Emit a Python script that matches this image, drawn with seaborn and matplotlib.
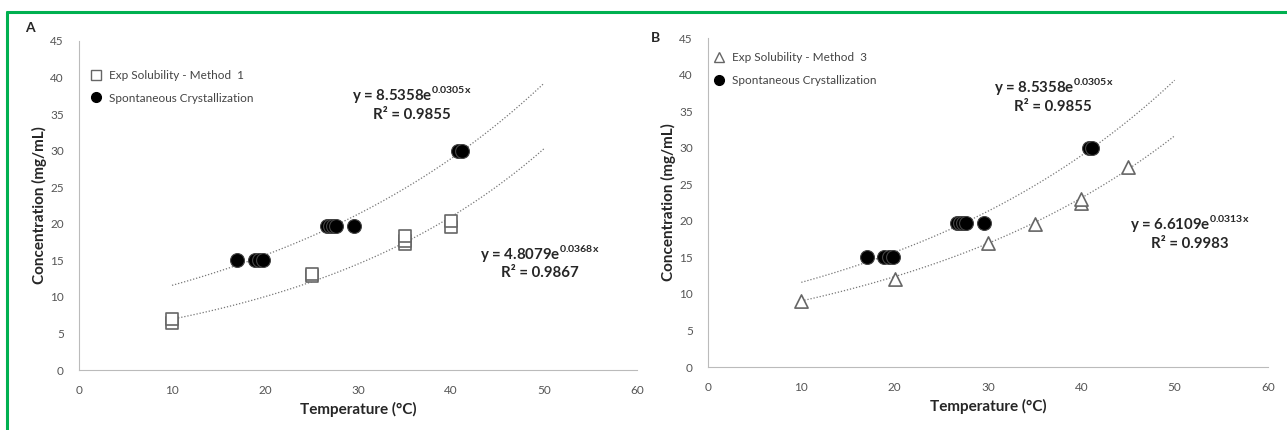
import numpy as np
import pandas as pd
import matplotlib.pyplot as plt
import seaborn as sns
from matplotlib.lines import Line2D

# Method 1 solubility (panel A)
m1_temp = [10, 10, 25, 25, 35, 35, 35, 40, 40]
m1_conc = [6.4, 7.0, 12.8, 13.1, 17.2, 17.7, 18.3, 19.5, 20.4]

# Method 3 solubility (panel B)
m3_temp = [10, 20, 30, 35, 40, 40, 45]
m3_conc = [9.0, 12.0, 17.0, 19.6, 22.4, 23.0, 27.4]

# Spontaneous crystallization (both panels)
sc_temp = [17, 18.9, 19.4, 19.8, 26.7, 27.0, 27.3, 27.6, 29.6, 40.8, 41.2]
sc_conc = [15, 15, 15, 15, 19.7, 19.7, 19.7, 19.7, 19.7, 30, 30]

# Exponential trendlines (a, b) for y = a*exp(b*x), as printed on the chart
fit_sc = (8.5358, 0.0305)
fit_m1 = (4.8079, 0.0368)
fit_m3 = (6.6109, 0.0313)
fit_range = (10, 50)

sns.set_theme(style="white")
plt.rcParams['font.family'] = ['Lato', 'DejaVu Sans']

fig = plt.figure(figsize=(12.87, 4.3), dpi=100)
axA = fig.add_axes([0.0614, 0.1395, 0.4336, 0.7652])
axB = fig.add_axes([0.5501, 0.1465, 0.4351, 0.7651])


def trend(ax, fit):
    xs = np.linspace(fit_range[0], fit_range[1], 100)
    df = pd.DataFrame({'x': xs, 'y': fit[0] * np.exp(fit[1] * xs)})
    sns.lineplot(data=df, x='x', y='y', ax=ax, color='#777777', lw=0.9,
                 linestyle=(0, (1, 1.5)), zorder=1)


def style_axes(ax):
    ax.set_xlim(0, 60)
    ax.set_ylim(0, 45)
    ax.set_xticks(range(0, 61, 10))
    ax.set_yticks(range(0, 46, 5))
    for s in ['top', 'right']:
        ax.spines[s].set_visible(False)
    for s in ['left', 'bottom']:
        ax.spines[s].set_color('#bbbbbb')
        ax.spines[s].set_linewidth(0.8)
        ax.spines[s].set_linestyle((0, (1, 1)))
    ax.tick_params(axis='both', direction='out', length=3, width=0.6,
                   color='#bbbbbb', labelsize=8.5, labelcolor='#555555', pad=8)
    ax.set_xlabel('Temperature (°C)', fontsize=11, fontweight='bold', labelpad=4)
    ax.set_ylabel('Concentration (mg/mL)', fontsize=11, fontweight='bold', labelpad=2)


def equation(ax, x, y, a, b, r2):
    kw = dict(fontsize=10.8, fontweight='bold', ha='center', va='center')
    ax.text(x, y, f'y = {a}e' + r'$^{\mathregular{' + f'{b}x' + r'}}$', **kw)
    ax.text(x, y - 2.8, f'R² = {r2}', **kw)


# Panel A
trend(axA, fit_sc)
trend(axA, fit_m1)
sns.scatterplot(x=m1_temp, y=m1_conc, ax=axA, marker='s', s=80,
                facecolor='white', edgecolor='#666666', linewidth=1.2, zorder=3)
sns.scatterplot(x=sc_temp, y=sc_conc, ax=axA, marker='o', s=100,
                color='black', edgecolor='#444444', linewidth=0.8, zorder=3)
style_axes(axA)
equation(axA, 35.8, 37.7, '8.5358', '0.0305', '0.9855')
equation(axA, 49.5, 16.0, '4.8079', '0.0368', '0.9867')
legA = [Line2D([], [], marker='s', ls='', mfc='white', mec='#666666', ms=7,
               label='Exp Solubility - Method  1'),
        Line2D([], [], marker='o', ls='', color='black', ms=7,
               label='Spontaneous Crystallization')]
axA.legend(handles=legA, loc='upper left', bbox_to_anchor=(-0.01, 0.945), frameon=False,
           fontsize=8.5, handletextpad=0.1, labelspacing=1.0, labelcolor='#444444')

# Panel B
trend(axB, fit_sc)
trend(axB, fit_m3)
sns.scatterplot(x=m3_temp, y=m3_conc, ax=axB, marker='^', s=90,
                facecolor='white', edgecolor='#666666', linewidth=1.2, zorder=3)
sns.scatterplot(x=sc_temp, y=sc_conc, ax=axB, marker='o', s=100,
                color='black', edgecolor='#444444', linewidth=0.8, zorder=3)
style_axes(axB)
equation(axB, 37.0, 38.3, '8.5358', '0.0305', '0.9855')
equation(axB, 51.6, 19.6, '6.6109', '0.0313', '0.9983')
legB = [Line2D([], [], marker='^', ls='', mfc='white', mec='#666666', ms=7,
               label='Exp Solubility - Method  3'),
        Line2D([], [], marker='o', ls='', color='black', ms=7,
               label='Spontaneous Crystallization')]
axB.legend(handles=legB, loc='upper left', bbox_to_anchor=(-0.02, 0.99), frameon=False,
           fontsize=8.5, handletextpad=0.1, labelspacing=1.0, labelcolor='#444444')

# panel letters
fig.text(30 / 1287, 1 - 28 / 430, 'A', fontsize=10, fontweight='bold', ha='center', va='center')
fig.text(656 / 1287, 1 - 38 / 430, 'B', fontsize=10, fontweight='bold', ha='center', va='center')

# green frame (top and left edges)
green = '#00B050'
fig.add_artist(Line2D([7 / 1287, 1], [1 - 12 / 430] * 2, color=green, lw=2.2,
                      transform=fig.transFigure))
fig.add_artist(Line2D([7 / 1287] * 2, [0, 1 - 12 / 430], color=green, lw=2.2,
                      transform=fig.transFigure))

fig.savefig('out.png', dpi=100)
